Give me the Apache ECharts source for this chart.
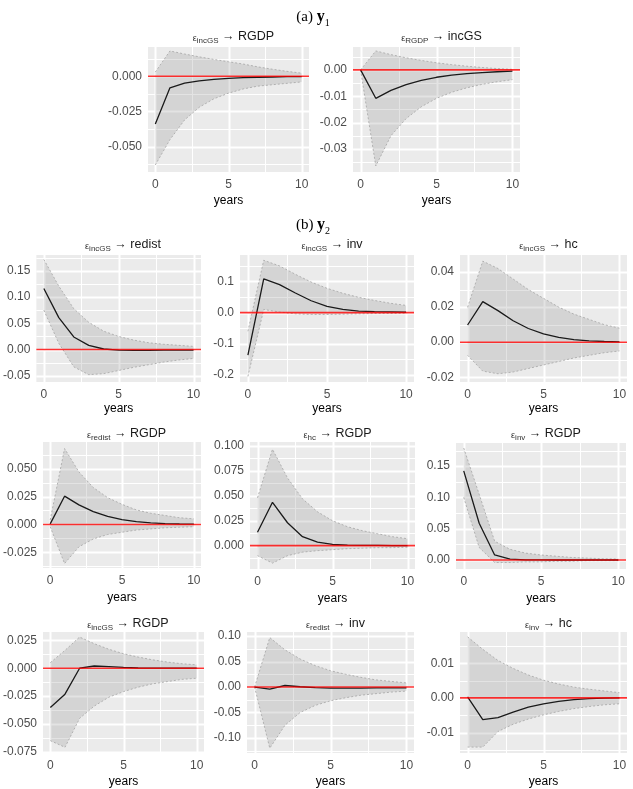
<!DOCTYPE html>
<html>
<head>
<meta charset="utf-8">
<script src="https://cdn.jsdelivr.net/npm/echarts@6/dist/echarts.min.js"></script>
<style>
  html, body { margin: 0; padding: 0; background: #fff; }
  #main { width: 633px; height: 789px; }
</style>
</head>
<body>
<div id="main"></div>
<script>
// horizon (years) shared by all panels
var years = [0, 1, 2, 3, 4, 5, 6, 7, 8, 9, 10];
var xTicks = [0, 5, 10];

// panel titles: shock -> response
var shocks    = ['incGS', 'RGDP', 'incGS', 'incGS', 'incGS', 'redist', 'hc', 'inv', 'incGS', 'redist', 'inv'];
var responses = ['RGDP', 'incGS', 'redist', 'inv', 'hc', 'RGDP', 'RGDP', 'RGDP', 'RGDP', 'inv', 'hc'];

// (a) y1 : incGS -> RGDP
var mid1 = [-0.0339, -0.0082, -0.0048, -0.0032, -0.0022, -0.0015, -0.0010, -0.0007, -0.0005, -0.0003, -0.0002];
var lo1  = [-0.063, -0.045, -0.031, -0.022, -0.016, -0.012, -0.009, -0.007, -0.006, -0.005, -0.004];
var hi1  = [0.003, 0.018, 0.0158, 0.0138, 0.0120, 0.0103, 0.0087, 0.0067, 0.0050, 0.0035, 0.0022];
// (a) y1 : RGDP -> incGS
var mid2 = [0, -0.0108, -0.0078, -0.0056, -0.0040, -0.0028, -0.0020, -0.0014, -0.0010, -0.0007, -0.0005];
var lo2  = [0, -0.0365, -0.025, -0.0185, -0.014, -0.0108, -0.0085, -0.0068, -0.0055, -0.0045, -0.0037];
var hi2  = [0, 0.0072, 0.0058, 0.0046, 0.0036, 0.0027, 0.0020, 0.0014, 0.0009, 0.0005, 0.0002];
// (b) y2 : incGS -> redist
var mid3 = [0.1166, 0.061, 0.024, 0.008, 0.001, -0.001, -0.0015, -0.0015, -0.0012, -0.001, -0.001];
var lo3  = [0.075, 0.012, -0.033, -0.048, -0.046, -0.040, -0.034, -0.029, -0.024, -0.020, -0.017];
var hi3  = [0.172, 0.121, 0.078, 0.052, 0.035, 0.025, 0.018, 0.013, 0.010, 0.008, 0.006];
// incGS -> inv
var mid4 = [-0.137, 0.108, 0.090, 0.063, 0.038, 0.020, 0.010, 0.005, 0.003, 0.002, 0.001];
var lo4  = [-0.205, 0.010, 0.002, -0.004, -0.006, -0.006, -0.005, -0.004, -0.003, -0.003, -0.002];
var hi4  = [-0.06, 0.168, 0.15, 0.123, 0.098, 0.078, 0.062, 0.049, 0.039, 0.030, 0.023];
// incGS -> hc
var mid5 = [0.0098, 0.0231, 0.0180, 0.0122, 0.0078, 0.0047, 0.0027, 0.0015, 0.0008, 0.0004, 0.0002];
var lo5  = [-0.0075, -0.0165, -0.018, -0.017, -0.015, -0.013, -0.011, -0.009, -0.0075, -0.006, -0.005];
var hi5  = [0.0199, 0.0462, 0.042, 0.036, 0.030, 0.025, 0.020, 0.016, 0.013, 0.010, 0.008];
// redist -> RGDP
var mid6 = [0.0005, 0.0253, 0.0175, 0.0115, 0.0072, 0.0043, 0.0025, 0.0014, 0.0008, 0.0004, 0.0002];
var lo6  = [-0.002, -0.035, -0.020, -0.013, -0.009, -0.007, -0.005, -0.004, -0.003, -0.0025, -0.002];
var hi6  = [0.004, 0.0679, 0.047, 0.033, 0.024, 0.018, 0.013, 0.010, 0.008, 0.006, 0.005];
// hc -> RGDP
var mid7 = [0.0134, 0.0435, 0.023, 0.009, 0.0035, 0.0012, 0.0005, 0.0003, 0.0002, 0.0001, 0.0001];
var lo7  = [-0.010, -0.0175, -0.010, -0.0065, -0.005, -0.004, -0.003, -0.0025, -0.002, -0.002, -0.0015];
var hi7  = [0.048, 0.0967, 0.068, 0.047, 0.034, 0.025, 0.019, 0.015, 0.012, 0.009, 0.007];
// inv -> RGDP
var mid8 = [0.1425, 0.0587, 0.008, 0.0015, 0.0003, 0.0001, 0, 0, 0, 0, 0];
var lo8  = [0.100, 0.020, -0.004, -0.004, -0.003, -0.003, -0.002, -0.002, -0.001, -0.001, -0.001];
var hi8  = [0.179, 0.105, 0.030, 0.017, 0.011, 0.008, 0.006, 0.004, 0.003, 0.002, 0.0015];
// incGS -> RGDP
var mid9 = [-0.0353, -0.0233, 0.0, 0.002, 0.0015, 0.0007, 0.0002, 0, 0, 0, 0];
var lo9  = [-0.065, -0.071, -0.045, -0.034, -0.026, -0.021, -0.017, -0.014, -0.012, -0.010, -0.009];
var hi9  = [0.005, 0.016, 0.028, 0.022, 0.017, 0.013, 0.010, 0.0075, 0.0055, 0.004, 0.003];
// redist -> inv
var mid10 = [0, -0.004, 0.003, 0.0005, -0.001, -0.002, -0.002, -0.002, -0.0015, -0.0015, -0.0015];
var lo10  = [0, -0.120, -0.075, -0.050, -0.036, -0.027, -0.021, -0.016, -0.013, -0.010, -0.008];
var hi10  = [0, 0.097, 0.073, 0.055, 0.042, 0.032, 0.025, 0.019, 0.014, 0.011, 0.008];
// inv -> hc
var mid11 = [0.0003, -0.0063, -0.0057, -0.0041, -0.0027, -0.0017, -0.0010, -0.0005, -0.0002, -0.0001, 0];
var lo11  = [-0.0142, -0.0142, -0.0097, -0.0076, -0.0061, -0.0049, -0.0039, -0.0031, -0.0025, -0.0020, -0.0017];
var hi11  = [0.0176, 0.0140, 0.0108, 0.0085, 0.0066, 0.0051, 0.0040, 0.0031, 0.0025, 0.0020, 0.0015];

// y tick labels per panel
var yTicks1  = [-0.05, -0.025, 0];
var yTicks2  = [-0.03, -0.02, -0.01, 0];
var yTicks3  = [-0.05, 0, 0.05, 0.10, 0.15];
var yTicks4  = [-0.2, -0.1, 0, 0.1];
var yTicks5  = [-0.02, 0, 0.02, 0.04];
var yTicks6  = [-0.025, 0, 0.025, 0.05];
var yTicks7  = [0, 0.025, 0.05, 0.075, 0.1];
var yTicks8  = [0, 0.05, 0.10, 0.15];
var yTicks9  = [-0.075, -0.05, -0.025, 0, 0.025];
var yTicks10 = [-0.10, -0.05, 0, 0.05, 0.10];
var yTicks11 = [-0.01, 0, 0.01];

var mids = [mid1, mid2, mid3, mid4, mid5, mid6, mid7, mid8, mid9, mid10, mid11];
var los  = [lo1, lo2, lo3, lo4, lo5, lo6, lo7, lo8, lo9, lo10, lo11];
var his  = [hi1, hi2, hi3, hi4, hi5, hi6, hi7, hi8, hi9, hi10, hi11];
var yTicks = [yTicks1, yTicks2, yTicks3, yTicks4, yTicks5, yTicks6, yTicks7, yTicks8, yTicks9, yTicks10, yTicks11];

// layout: plot boxes and axis ranges
var panels = [
  {l: 148, t: 47,  w: 161, h: 125, ymin: -0.068,  ymax: 0.0208, dec: 3, gap: 23},
  {l: 353, t: 47,  w: 167, h: 125, ymin: -0.0388, ymax: 0.0087, dec: 2, gap: 23},
  {l: 35,  t: 255, w: 166, h: 127, ymin: -0.062,  ymax: 0.1805, dec: 2, gap: 21},
  {l: 240, t: 255, w: 174, h: 127, ymin: -0.223,  ymax: 0.185,  dec: 1, gap: 21},
  {l: 460, t: 255, w: 167, h: 127, ymin: -0.0227, ymax: 0.0497, dec: 2, gap: 21},
  {l: 42,  t: 442, w: 159, h: 126, ymin: -0.039,  ymax: 0.0738, dec: 3, gap: 24},
  {l: 250, t: 442, w: 165, h: 127, ymin: -0.0234, ymax: 0.104,  dec: 3, gap: 24},
  {l: 456, t: 443, w: 170, h: 126, ymin: -0.0144, ymax: 0.187,  dec: 2, gap: 24},
  {l: 42,  t: 632, w: 162, h: 126, ymin: -0.0761, ymax: 0.0325, dec: 3, gap: 23},
  {l: 247, t: 632, w: 167, h: 126, ymin: -0.1295, ymax: 0.108,  dec: 2, gap: 23},
  {l: 460, t: 632, w: 167, h: 126, ymin: -0.0159, ymax: 0.019,  dec: 2, gap: 23}
];
var XMIN = -0.5, XMAX = 10.5;
var SANS = '"Liberation Sans", Arial, sans-serif';
var SERIF = '"Liberation Serif", "DejaVu Serif", serif';

function minorsOf(ticks, lo, hi) {
  var step = ticks[1] - ticks[0];
  var out = [];
  for (var k = -10; k < ticks.length + 10; k++) {
    var v = ticks[0] + (k + 0.5) * step;
    if (v > lo && v < hi) out.push(v);
  }
  return out;
}

var grids = [], xAxes = [], yAxes = [], series = [], titles = [];

panels.forEach(function (p, i) {
  grids.push({left: p.l, top: p.t, width: p.w, height: p.h, show: false});
  xAxes.push({
    gridIndex: i, type: 'value', min: XMIN, max: XMAX,
    axisLine: {show: false},
    axisTick: {show: true, customValues: xTicks, length: 3, lineStyle: {color: '#333', width: 1}},
    axisLabel: {customValues: xTicks, color: '#4d4d4d', fontSize: 12, margin: 7, fontFamily: SANS},
    splitLine: {show: false},
    name: 'years', nameLocation: 'middle', nameGap: p.gap,
    nameTextStyle: {color: '#000', fontSize: 12, fontFamily: SANS}
  });
  var yt = yTicks[i];
  yAxes.push({
    gridIndex: i, type: 'value', min: p.ymin, max: p.ymax,
    axisLine: {show: false},
    axisTick: {show: true, customValues: yt, length: 3, lineStyle: {color: '#333', width: 1}},
    axisLabel: {
      customValues: yt, color: '#4d4d4d', fontSize: 12, margin: 6, fontFamily: SANS,
      formatter: (function (d) { return function (v) { return (+v).toFixed(d); }; })(p.dec)
    },
    splitLine: {show: false}
  });

  var xMinor = [2.5, 7.5];
  var yMinor = minorsOf(yt, p.ymin, p.ymax);

  // panel background and grid lines (ggplot style)
  series.push({
    type: 'custom', xAxisIndex: i, yAxisIndex: i, z: 1, silent: true,
    data: [[0, 0]],
    renderItem: function (params, api) {
      var c0 = api.coord([XMIN, p.ymax]), c1 = api.coord([XMAX, p.ymin]);
      var kids = [{
        type: 'rect',
        shape: {x: c0[0], y: c0[1], width: c1[0] - c0[0], height: c1[1] - c0[1]},
        style: {fill: '#ebebeb'}
      }];
      var vl = function (v, w) {
        var a = api.coord([v, p.ymin]), b = api.coord([v, p.ymax]);
        var x = Math.round(a[0]) + 0.5;
        kids.push({type: 'line', shape: {x1: x, y1: a[1], x2: x, y2: b[1]}, style: {stroke: '#ffffff', lineWidth: w}});
      };
      var hl = function (v, w) {
        var a = api.coord([XMIN, v]), b = api.coord([XMAX, v]);
        var y = Math.round(a[1]) + 0.5;
        kids.push({type: 'line', shape: {x1: a[0], y1: y, x2: b[0], y2: y}, style: {stroke: '#ffffff', lineWidth: w}});
      };
      xMinor.forEach(function (v) { vl(v, 1); });
      yMinor.forEach(function (v) { hl(v, 1); });
      xTicks.forEach(function (v) { vl(v, 2); });
      yt.forEach(function (v) { hl(v, 2); });
      return {type: 'group', children: kids};
    }
  });

  // confidence band
  var lo = los[i], hi = his[i];
  series.push({
    type: 'custom', xAxisIndex: i, yAxisIndex: i, z: 2, silent: true,
    data: [[0, 0]],
    renderItem: function (params, api) {
      var pts = [];
      years.forEach(function (x, k) { pts.push(api.coord([x, hi[k]])); });
      for (var k = years.length - 1; k >= 0; k--) pts.push(api.coord([years[k], lo[k]]));
      return {type: 'polygon', shape: {points: pts}, style: {fill: 'rgba(150,150,150,0.27)'}};
    }
  });
  [lo, hi].forEach(function (arr) {
    series.push({
      type: 'line', xAxisIndex: i, yAxisIndex: i, z: 3, silent: true,
      symbol: 'none',
      data: years.map(function (x, k) { return [x, arr[k]]; }),
      lineStyle: {color: '#ababab', width: 0.9, type: [2, 2]}
    });
  });

  // median response
  series.push({
    type: 'line', xAxisIndex: i, yAxisIndex: i, z: 4, silent: true,
    symbol: 'none',
    data: years.map(function (x, k) { return [x, mids[i][k]]; }),
    lineStyle: {color: '#1a1a1a', width: 1.3}
  });

  // zero line
  series.push({
    type: 'custom', xAxisIndex: i, yAxisIndex: i, z: 5, silent: true,
    data: [[0, 0]],
    renderItem: function (params, api) {
      var a = api.coord([XMIN, 0]), b = api.coord([XMAX, 0]);
      return {type: 'line', shape: {x1: a[0], y1: a[1], x2: b[0], y2: b[1]}, style: {stroke: 'rgba(255,0,0,0.8)', lineWidth: 1.6}};
    }
  });

  titles.push({
    left: p.l + p.w / 2, top: (i < 2 ? 30 : (i < 5 ? 238 : (i < 8 ? 427 : 617))) - 8,
    textAlign: 'center',
    text: '{e|ε}{s|' + shocks[i] + '}{a| → ' + responses[i] + '}',
    textStyle: {
      fontWeight: 'normal',
      rich: {
        e: {fontSize: 9, fontWeight: 'normal', color: '#333', fontFamily: SANS, lineHeight: 16, verticalAlign: 'bottom'},
        s: {fontSize: 8, fontWeight: 'normal', color: '#333', fontFamily: SANS, lineHeight: 16, verticalAlign: 'bottom', padding: [0, 0, -2, 0]},
        a: {fontSize: 12.5, fontWeight: 'normal', color: '#1a1a1a', fontFamily: SANS, lineHeight: 16, verticalAlign: 'bottom'}
      }
    }
  });
});

// section headers
[['a', '1', 2], ['b', '2', 210]].forEach(function (h) {
  titles.push({
    left: 308, top: h[2], textAlign: 'center',
    text: '{n|(' + h[0] + ') }{b|y}{s|' + h[1] + '}',
    textStyle: {
      fontWeight: 'normal',
      rich: {
        n: {fontSize: 15, fontWeight: 'normal', fontFamily: SERIF, color: '#000', lineHeight: 18, verticalAlign: 'bottom'},
        b: {fontSize: 16, fontFamily: SERIF, fontWeight: 'bold', color: '#000', lineHeight: 18, verticalAlign: 'bottom'},
        s: {fontSize: 10, fontWeight: 'normal', fontFamily: SERIF, color: '#000', lineHeight: 18, verticalAlign: 'bottom', padding: [0, 0, -3, 0]}
      }
    }
  });
});

var chart = echarts.init(document.getElementById('main'), null, {renderer: 'canvas'});
chart.setOption({
  backgroundColor: '#fff',
  animation: false,
  title: titles,
  grid: grids,
  xAxis: xAxes,
  yAxis: yAxes,
  series: series
});
</script>
</body>
</html>
